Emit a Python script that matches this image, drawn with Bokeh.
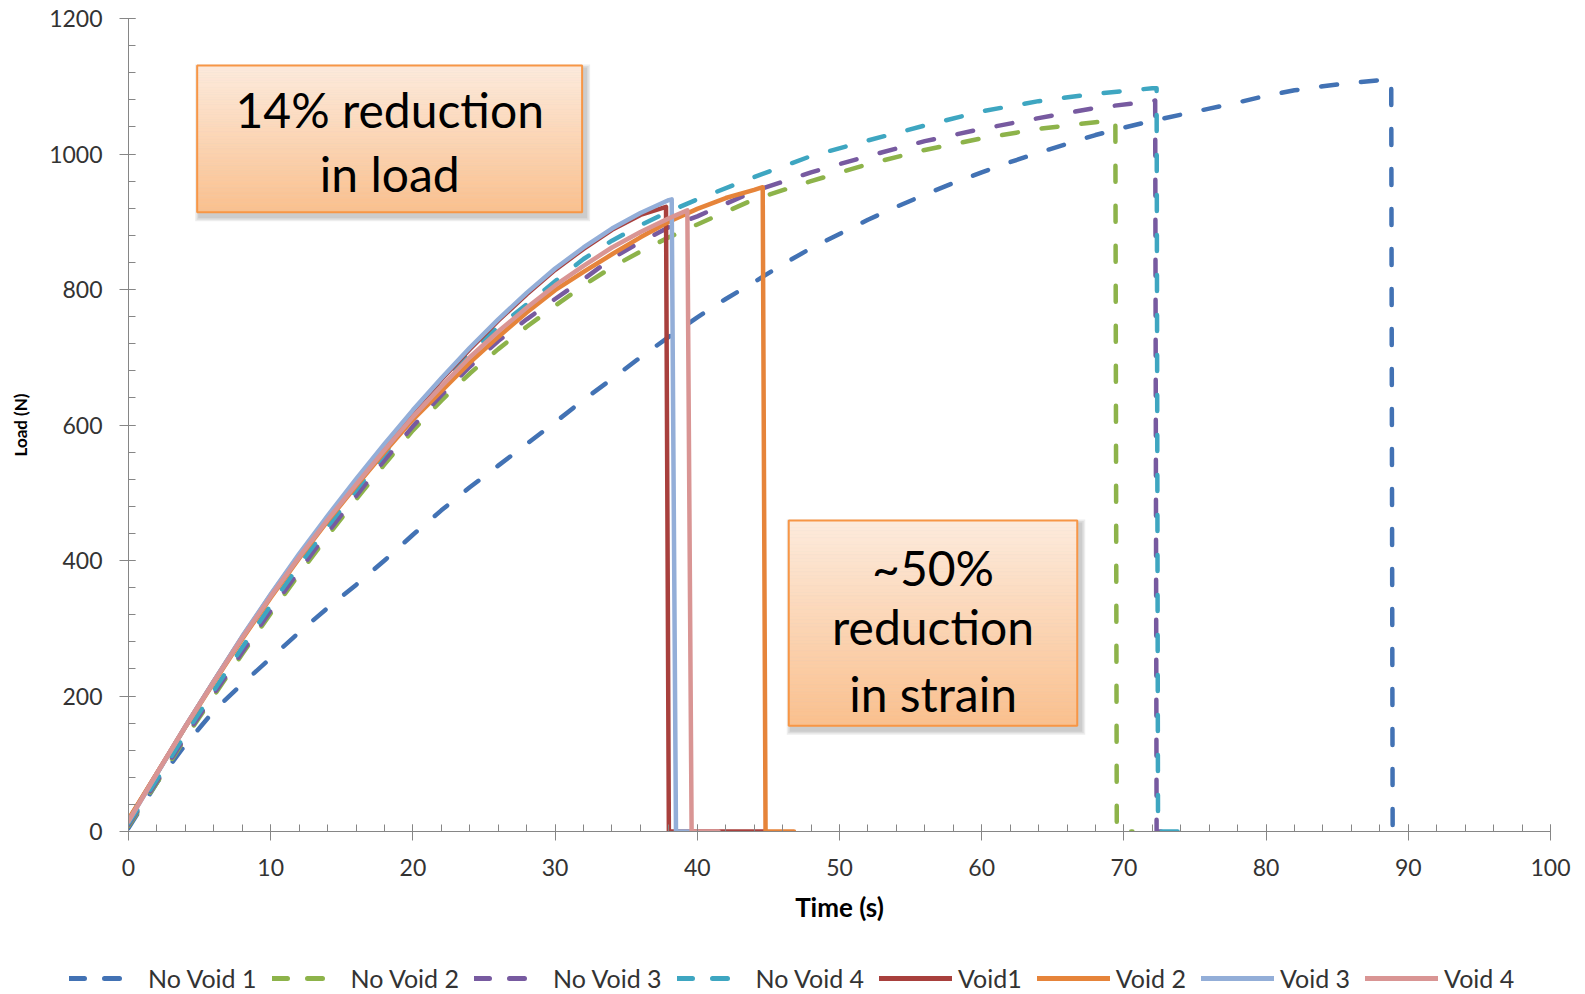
import numpy as np
from bokeh.plotting import figure
from bokeh.layouts import column
from bokeh.models import Range1d, FixedTicker, Legend, LegendItem
from bokeh.core.properties import value
from bokeh.embed import file_html
from bokeh.resources import INLINE

# ---------------- data ----------------
t_nv1 = [0, 2, 4, 6, 8, 10, 12, 14, 16, 18, 20, 22, 24, 26, 28, 30, 32, 34, 36, 38, 40, 42, 44, 46, 48,
         50, 52, 54, 56, 58, 60, 62, 64, 66, 68, 70, 72, 74, 76, 78, 80, 82, 84, 86, 88, 88.8, 88.9, 89.8]
L_nv1 = [5, 72, 128, 178, 218, 256, 294, 330, 364, 400, 438, 474, 508, 540, 572, 604, 637, 668, 700, 730,
         759, 786, 811, 837, 861, 882, 903, 922, 940, 957, 973, 988, 1002, 1015, 1028, 1039, 1049, 1058,
         1067, 1076, 1086, 1094, 1100, 1105, 1109, 1110, 0, 0]

t_nv2 = [0, 2, 4, 6, 8, 10, 12, 14, 16, 18, 20, 22, 24, 26, 28, 30, 32, 34, 36, 38, 40, 44, 48, 52, 56,
         60, 64, 68, 69.4, 69.5, 70.6]
L_nv2 = [8, 72, 138, 200, 262, 322, 380, 436, 490, 542, 592, 636, 676, 712, 745, 776, 806, 833, 856, 877,
         896, 933, 960, 985, 1006, 1023, 1037, 1047, 1050, 0, 0]

t_nv3 = [0, 2, 4, 6, 8, 10, 12, 14, 16, 18, 20, 22, 24, 26, 28, 30, 32, 34, 36, 38, 40, 44, 48, 52, 56,
         60, 64, 68, 72, 72.2, 72.3, 72.6]
L_nv3 = [10, 74, 140, 203, 265, 326, 385, 441, 495, 548, 598, 644, 686, 724, 756, 786, 815, 846, 870, 892,
         908, 945, 973, 997, 1019, 1037, 1053, 1068, 1078, 1079, 0, 0]

t_nv4 = [0, 2, 4, 6, 8, 10, 12, 14, 16, 18, 20, 22, 24, 26, 28, 30, 32, 34, 36, 38, 40, 44, 48, 52, 56,
         60, 64, 68, 72, 72.3, 72.4, 74.3]
L_nv4 = [12, 77, 144, 208, 272, 334, 393, 450, 504, 557, 612, 664, 707, 745, 778, 812, 845, 872, 895, 915,
         933, 966, 997, 1020, 1042, 1063, 1078, 1089, 1097, 1097, 0, 0]

t_v1 = [0, 2, 4, 6, 8, 10, 12, 14, 16, 18, 20, 22, 24, 26, 28, 30, 32, 34, 36, 37.8, 38.0, 44.7]
L_v1 = [17, 86, 155, 222, 287, 349, 408, 464, 518, 570, 620, 667, 712, 754, 793, 829, 860, 888, 910, 922, 0, 0]

t_v2 = [0, 2, 4, 6, 8, 10, 12, 14, 16, 18, 20, 22, 24, 26, 28, 30, 32, 34, 36, 38, 40, 42, 44, 44.6,
        44.8, 46.8]
L_v2 = [18, 86, 154, 220, 284, 345, 403, 458, 510, 560, 608, 650, 692, 730, 766, 799, 826, 852, 877, 900,
        919, 935, 947, 951, 0, 0]

t_v3 = [0, 2, 4, 6, 8, 10, 12, 14, 16, 18, 20, 22, 24, 26, 28, 30, 32, 34, 36, 38, 38.2, 38.5, 39.5]
L_v3 = [15, 85, 155, 222, 288, 350, 410, 466, 520, 572, 622, 669, 714, 756, 795, 831, 862, 890, 913, 932,
        933, 0, 0]

t_v4 = [0, 2, 4, 6, 8, 10, 12, 14, 16, 18, 20, 22, 24, 26, 28, 30, 32, 34, 36, 38, 39.3, 39.6, 41.5]
L_v4 = [15, 86, 155, 221, 286, 347, 405, 460, 512, 563, 612, 657, 700, 738, 773, 806, 835, 862, 885, 905,
        917, 0, 0]

names = ["No Void 1", "No Void 2", "No Void 3", "No Void 4", "Void1", "Void 2", "Void 3", "Void 4"]
colors = ["#4272b4", "#8db34a", "#775aa0", "#3ea6c1", "#a8403d", "#e6843a", "#93aed8", "#d99594"]
dashed = [True, True, True, True, False, False, False, False]
times = [t_nv1, t_nv2, t_nv3, t_nv4, t_v1, t_v2, t_v3, t_v4]
loads = [L_nv1, L_nv2, L_nv3, L_nv4, L_v1, L_v2, L_v3, L_v4]

x_major = list(range(0, 101, 10))
x_minor = list(range(0, 101, 2))
y_major = list(range(0, 1201, 200))
y_minor = list(range(0, 1201, 40))

# annotation boxes (data units) and their text lines
box_left = [4.83, 46.43]
box_right = [31.9, 66.72]
box_bottom = [914, 156]
box_top = [1130.6, 459]
note_x = [18.37, 18.37, 56.58, 56.58, 56.58]
note_y = [1065, 971, 390, 302, 203]
note_text = ["14% reduction", "in load", "~50%", "reduction", "in strain"]

# ---------------- main figure ----------------
FRAME_W, FRAME_H = 1422, 813
p = figure(width=1585, height=958, x_range=Range1d(0, 100), y_range=Range1d(0, 1200),
           output_backend="svg", toolbar_location=None,
           min_border_left=128, min_border_right=35, min_border_top=18, min_border_bottom=127)
p.outline_line_color = None
p.grid.visible = False

axis_gray = "#868686"
for ax in (p.xaxis[0], p.yaxis[0]):
    ax.axis_line_color = axis_gray
    ax.major_tick_line_color = axis_gray
    ax.minor_tick_line_color = axis_gray
    ax.major_label_text_font = "Lato"
    ax.major_label_text_font_size = "23px"
    ax.major_label_text_color = "#333333"
    ax.axis_label_text_font = "Lato"
    ax.axis_label_text_font_style = "bold"
    ax.axis_label_text_color = "#000000"
    ax.major_tick_out = 9
    ax.major_tick_in = 7
    ax.minor_tick_out = 0
    ax.minor_tick_in = 7

p.xaxis[0].ticker = FixedTicker(ticks=x_major, minor_ticks=x_minor)
p.yaxis[0].ticker = FixedTicker(ticks=y_major, minor_ticks=y_minor)
p.xaxis[0].axis_label = "Time (s)"
p.yaxis[0].axis_label = "Load (N)"
p.xaxis[0].axis_label_text_font_size = "26px"
p.yaxis[0].axis_label_text_font_size = "17px"
p.xaxis[0].major_label_standoff = 18
p.yaxis[0].major_label_standoff = 17
p.xaxis[0].axis_label_standoff = 12
p.yaxis[0].axis_label_standoff = 15

for t, L, c, d in zip(times, loads, colors, dashed):
    if d:
        p.line(t, L, line_color=c, line_width=4.5, line_dash="16 24", line_cap="round", line_join="round")
    else:
        p.line(t, L, line_color=c, line_width=4.5, line_cap="round", line_join="round")

# annotation boxes: shadow, vertical gradient, border
dx = 100.0 / FRAME_W
dy = 1200.0 / FRAME_H
c_top = np.array([253, 235, 221])
c_bot = np.array([250, 192, 142])
nstrip = 60
for l, r, b, tp in zip(box_left, box_right, box_bottom, box_top):
    for k in (5, 3.5, 2):
        p.quad(left=l + (3 - k) * dx, right=r + (3 + k) * dx, bottom=b - (4 + k) * dy, top=tp - (4 - k) * dy,
               fill_color="#000000", fill_alpha=0.07, line_color=None)
    edges = np.linspace(tp, b, nstrip + 1)
    cols = []
    for i in range(nstrip):
        f = (i + 0.5) / nstrip
        rgb = (c_top * (1 - f) + c_bot * f).round().astype(int)
        cols.append("#%02x%02x%02x" % tuple(rgb))
    p.quad(left=[l] * nstrip, right=[r] * nstrip, top=list(edges[:-1]), bottom=list(edges[1:]),
           fill_color=cols, line_color=cols, line_width=0.5)
    p.quad(left=l, right=r, bottom=b, top=tp, fill_color=None, line_color="#f79646", line_width=2)

p.text(x=note_x, y=note_y, text=note_text, text_font=value("Lato"), text_font_size="48px",
       text_align="center", text_baseline="alphabetic", text_color="#000000")

# ---------------- legend strip ----------------
lg = figure(width=1585, height=36, x_range=Range1d(0, 1), y_range=Range1d(0, 1),
            output_backend="svg", toolbar_location=None, x_axis_location=None, y_axis_location=None,
            min_border=0, min_border_left=0, min_border_right=0, min_border_top=0, min_border_bottom=0)
lg.outline_line_color = None
lg.grid.visible = False
if hasattr(p, "frame_align"):
    p.frame_align = False
    lg.frame_align = False
items = []
for n, c, d in zip(names, colors, dashed):
    if d:
        r = lg.line([np.nan], [np.nan], line_color=c, line_width=5, line_dash="15 20 15 40", line_cap="round")
    else:
        r = lg.line([np.nan], [np.nan], line_color=c, line_width=5, line_cap="round")
    items.append(LegendItem(label=n, renderers=[r]))
legend = Legend(items=items, orientation="horizontal", location=(69, 1),
                glyph_width=73, glyph_height=20, label_height=20, label_standoff=6, spacing=15,
                label_text_font="Lato", label_text_font_size="25px", label_text_color="#333333",
                padding=0, margin=0, border_line_alpha=0, background_fill_alpha=0)
lg.add_layout(legend)

layout = column(p, lg, spacing=0)
open("out.html", "w").write(file_html(layout, INLINE))
